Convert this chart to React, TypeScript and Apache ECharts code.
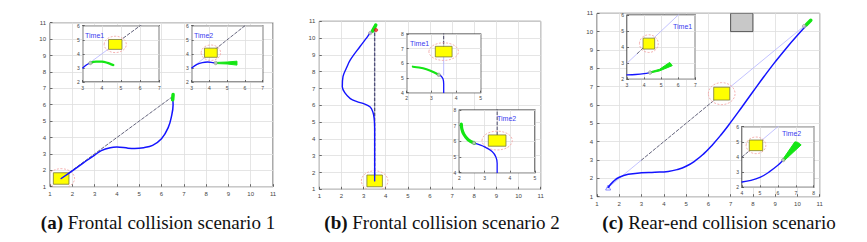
import React, { useEffect, useRef } from 'react';
import * as echarts from 'echarts';

type P = [number, number];

// ---------- axis ranges / tick labels ----------
const mainRange: P = [1, 11];
const a1XRange: P = [3, 7];
const a1YRange: P = [2, 6];
const a2XRange: P = [3, 7];
const a2YRange: P = [2, 6];
const b1XRange: P = [2, 5];
const b1YRange: P = [4, 8];
const b2XRange: P = [2, 5];
const b2YRange: P = [4, 8];
const c1XRange: P = [3, 7];
const c1YRange: P = [2, 6];
const c2XRange: P = [4, 8];
const c2YRange: P = [2, 6];

const captions = ['Frontal collision scenario 1', 'Frontal collision scenario 2', 'Rear-end collision scenario'];
const captionTags = ['(a)', '(b)', '(c)'];
const insetLabels = ['Time1', 'Time2', 'Time1', 'Time2', 'Time1', 'Time2'];

// ---------- panel (a) ----------
const aMainBlue: P[] = [[1.5, 1.5], [2, 1.97], [2.5, 2.45], [3, 2.93], [3.3, 3.2], [3.7, 3.38], [4.0, 3.42], [4.5, 3.35], [4.8, 3.33], [5.2, 3.38], [5.6, 3.52], [6.0, 3.92], [6.3, 4.6], [6.45, 5.3], [6.52, 6.0], [6.5, 6.4]];
const aMainDash: P[] = [[1.5, 1.5], [6.5, 6.5]];
const aMainGreen: P[] = [[6.5, 6.3], [6.52, 6.62]];
const aMainRect = [[1.5, 1.5, 0.7, 0.7]];
const aMainCircle = [[1.5, 1.5, 0.6]];

const a1Light: P[] = [[3, 3], [4.7, 4.7]];
const a1Dash: P[] = [[4.7, 4.7], [6.3, 6.3]];
const a1Blue: P[] = [[3, 3.0], [3.15, 3.17], [3.3, 3.3], [3.4, 3.35]];
const a1Green: P[] = [[3.4, 3.35], [3.7, 3.45], [4.0, 3.45], [4.3, 3.36], [4.6, 3.2]];
const a1Marker: P[] = [[3.4, 3.35]];
const a1Rect = [[4.7, 4.67, 0.7, 0.7]];
const a1Circle = [[4.7, 4.67, 0.58]];

const a2Light: P[] = [[3, 3], [4.1, 4.1]];
const a2Dash: P[] = [[4.1, 4.1], [6.3, 6.3]];
const a2Blue: P[] = [[3, 3.0], [3.3, 3.25], [3.6, 3.38], [3.9, 3.42], [4.2, 3.38], [4.35, 3.35]];
const a2Fan: P[] = [[4.35, 3.39], [5.0, 3.42], [5.55, 3.48], [5.55, 3.2], [5.0, 3.28], [4.35, 3.31]];
const a2Marker: P[] = [[4.35, 3.35]];
const a2Rect = [[4.08, 4.08, 0.72, 0.65]];
const a2Circle = [[4.08, 4.08, 0.55]];

// ---------- panel (b) ----------
const bMainBlue: P[] = [[3.5, 1.5], [3.5, 4.6], [3.48, 5.2], [3.42, 5.6], [3.3, 5.9], [3.0, 6.1], [2.7, 6.22], [2.4, 6.4], [2.15, 6.75], [2.04, 7.1], [2.07, 7.7], [2.22, 8.2], [2.4, 8.7], [2.84, 9.5], [3.1, 9.95], [3.3, 10.3], [3.4, 10.42]];
const bMainDash: P[] = [[3.5, 1.5], [3.5, 10.5]];
const bMainGreen: P[] = [[3.4, 10.42], [3.5, 10.65], [3.55, 10.78]];
const bMainRed: P[] = [[3.56, 10.48]];
const bMainMarker: P[] = [[3.3, 10.3]];
const bMainRect = [[3.5, 1.5, 0.7, 0.7]];
const bMainCircle = [[3.5, 1.5, 0.6]];

const b1Dash: P[] = [[3.5, 8.2], [3.5, 6.8]];
const b1Light: P[] = [[3.5, 6.8], [3.5, 5.2]];
const b1Blue: P[] = [[3.5, 4], [3.5, 4.6], [3.47, 4.95], [3.38, 5.15], [3.3, 5.22]];
const b1Green: P[] = [[3.3, 5.22], [3.1, 5.4], [2.8, 5.6], [2.5, 5.72], [2.25, 5.77]];
const b1Marker: P[] = [[3.3, 5.22]];
const b1Rect = [[3.5, 6.8, 0.68, 0.72]];
const b1Circle = [[3.5, 6.8, 0.6]];

const b2Dash: P[] = [[3.5, 8.2], [3.5, 6.05]];
const b2Blue: P[] = [[3.5, 4], [3.5, 4.6], [3.45, 5.0], [3.3, 5.35], [3.0, 5.65], [2.6, 5.88]];
const b2Green: P[] = [[2.6, 5.88], [2.35, 6.1], [2.18, 6.45], [2.1, 6.8], [2.08, 7.1]];
const b2Marker: P[] = [[2.58, 5.9]];
const b2Rect = [[3.5, 6.05, 0.7, 0.72]];
const b2Circle = [[3.5, 6.05, 0.6]];

// ---------- panel (c) ----------
const cMainBlue: P[] = [[1.5, 1.5], [1.75, 1.85], [2.0, 2.06], [2.4, 2.22], [3.0, 2.3], [3.6, 2.33], [4.2, 2.38], [4.6, 2.48], [5.0, 2.66], [5.4, 2.95], [5.8, 3.35], [6.2, 3.85], [6.6, 4.42], [7.0, 5.05], [7.5, 5.88], [8.0, 6.72], [8.5, 7.55], [9.0, 8.35], [9.5, 9.1], [10.0, 9.8], [10.45, 10.4]];
const cMainLight1: P[] = [[1.5, 1.5], [3.0, 3.0]];
const cMainDash: P[] = [[3.0, 3.0], [6.6, 6.6]];
const cMainLight2: P[] = [[6.6, 6.6], [10.45, 10.45]];
const cMainGreen: P[] = [[10.4, 10.38], [10.6, 10.62]];
const cMainMarker: P[] = [[10.3, 10.3]];
const cMainStart: P[] = [[1.5, 1.5]];
const cMainRect = [[6.6, 6.62, 0.72, 0.7]];
const cMainCircle = [[6.6, 6.62, 0.6]];
const cObstacle = [[7.5, 10.5, 1, 1]];

const c1Light1: P[] = [[3, 3], [3.6, 3.6]];
const c1Dash: P[] = [[3.6, 3.6], [4.3, 4.3]];
const c1Light2: P[] = [[4.3, 4.3], [6.3, 6.3]];
const c1Blue: P[] = [[3, 2.28], [3.5, 2.3], [4.0, 2.35], [4.35, 2.42]];
const c1Fan: P[] = [[4.35, 2.46], [4.9, 2.62], [5.5, 3.05], [5.65, 2.85], [4.9, 2.52], [4.35, 2.39]];
const c1Marker: P[] = [[4.35, 2.42]];
const c1Rect = [[4.28, 4.22, 0.68, 0.68]];
const c1Circle = [[4.28, 4.22, 0.55]];

const c2Dash: P[] = [[4, 4], [4.8, 4.8]];
const c2Light: P[] = [[4.8, 4.8], [6.3, 6.3]];
const c2Blue: P[] = [[4, 2.35], [4.5, 2.45], [5.0, 2.65], [5.5, 3.0], [6.0, 3.45], [6.3, 3.8]];
const c2Fan: P[] = [[6.25, 3.8], [6.95, 5.0], [7.1, 4.97], [7.3, 4.8], [6.35, 3.75]];
const c2Marker: P[] = [[6.3, 3.8]];
const c2Rect = [[4.78, 4.77, 0.75, 0.7]];
const c2Circle = [[4.78, 4.77, 0.55]];

// ---------- layout ----------
const gridBoxes = [
  [50, 22.7, 223, 164],
  [82.7, 25.7, 76.6, 56.3],
  [191.7, 25.7, 71, 56.3],
  [319.3, 21.3, 221.4, 168],
  [406.7, 34, 74, 58.7],
  [459.3, 110, 75.7, 62.7],
  [597, 13.3, 222.7, 183.4],
  [627, 15, 68.3, 64.3],
  [742, 126.7, 71.7, 60.6],
];
const isInset = [false, true, true, false, true, true, false, true, true];
const xRanges: P[] = [mainRange, a1XRange, a2XRange, mainRange, b1XRange, b2XRange, mainRange, c1XRange, c2XRange];
const yRanges: P[] = [mainRange, a1YRange, a2YRange, mainRange, b1YRange, b2YRange, mainRange, c1YRange, c2YRange];

const BLUE = '#1414ff';
const GREEN = '#14e614';
const LIGHT = '#b4b4ff';
const DASH = '#3c3c5a';

export default function App() {
  const ref = useRef<HTMLDivElement>(null);
  useEffect(() => {
    if (!ref.current) return;
    const chart = echarts.init(ref.current, undefined, { renderer: 'svg' });

    const zOf = (g: number) => (isInset[g] ? 6 : 2);

    const grid = gridBoxes.map((b, i) => ({
      left: b[0], top: b[1], width: b[2], height: b[3],
      show: true,
      backgroundColor: '#fff',
      borderColor: '#2a2a2a',
      borderWidth: isInset[i] ? 1.2 : 0.8,
      z: isInset[i] ? 4 : 0,
      containLabel: false,
    }));

    const axisCommon = (i: number, r: P) => ({
      gridIndex: i,
      type: 'value',
      min: r[0],
      max: r[1],
      interval: 1,
      z: isInset[i] ? 5 : 1,
      axisLine: { show: false },
      axisTick: { show: true, inside: true, length: isInset[i] ? 2 : 2.5, lineStyle: { color: '#333', width: 0.7 } },
      axisLabel: { fontSize: isInset[i] ? 5 : 6, color: '#444', margin: isInset[i] ? 3 : 4, fontFamily: 'Liberation Sans', showMinLabel: true, showMaxLabel: true },
      splitLine: { show: true, lineStyle: { color: '#dedede', width: 0.8 } },
    });
    const xAxis = xRanges.map((r, i) => axisCommon(i, r));
    const yAxis = yRanges.map((r, i) => axisCommon(i, r));

    const series: any[] = [];
    const line = (g: number, data: P[], color: string, width: number, type: any = 'solid', smooth: any = false, zAdd = 0) => {
      series.push({
        type: 'line', xAxisIndex: g, yAxisIndex: g, data, symbol: 'none', showSymbol: false, smooth,
        lineStyle: { color, width, type, cap: 'round' }, z: zOf(g) + zAdd, silent: true, clip: true,
      });
    };
    const marker = (g: number, data: P[], color = '#c8c8c8', border = '#808080', size = 4, symbol = 'circle') => {
      series.push({
        type: 'scatter', xAxisIndex: g, yAxisIndex: g, data, symbol, symbolSize: size,
        itemStyle: { color, borderColor: border, borderWidth: 0.6 }, z: zOf(g) + 3, silent: true,
      });
    };
    const rect = (g: number, data: number[][], fill = '#ffff00', stroke = '#7a7a3a') => {
      series.push({
        type: 'custom', xAxisIndex: g, yAxisIndex: g, data, z: zOf(g) + 1, silent: true, clip: true,
        renderItem: (_p: any, api: any) => {
          const c = api.coord([api.value(0), api.value(1)]);
          const s = api.size([api.value(2), api.value(3)]);
          return { type: 'rect', shape: { x: c[0] - s[0] / 2, y: c[1] - s[1] / 2, width: s[0], height: s[1] }, style: { fill, stroke, lineWidth: 0.8 } };
        },
      });
    };
    const ring = (g: number, data: number[][]) => {
      series.push({
        type: 'custom', xAxisIndex: g, yAxisIndex: g, data, z: zOf(g) + 1, silent: true, clip: true,
        renderItem: (_p: any, api: any) => {
          const c = api.coord([api.value(0), api.value(1)]);
          const s = api.size([api.value(2), api.value(2)]);
          return { type: 'ellipse', shape: { cx: c[0], cy: c[1], rx: s[0], ry: s[1] }, style: { fill: 'none', stroke: '#f2a0a0', lineWidth: 0.8, lineDash: [2, 1.5] } };
        },
      });
    };
    const fan = (g: number, pts: P[]) => {
      const flat = pts.reduce((acc: number[], p) => acc.concat(p), []);
      series.push({
        type: 'custom', xAxisIndex: g, yAxisIndex: g, data: [flat], z: zOf(g) + 2, silent: true, clip: true,
        encode: { x: pts.map((_, k) => 2 * k), y: pts.map((_, k) => 2 * k + 1) },
        renderItem: (_p: any, api: any) => {
          const points = pts.map((_, k) => api.coord([api.value(2 * k), api.value(2 * k + 1)]));
          return { type: 'polygon', shape: { points, smooth: 0 }, style: { fill: GREEN, stroke: GREEN, lineWidth: 1 } };
        },
      });
    };

    // panel a main (grid 0)
    ring(0, aMainCircle); rect(0, aMainRect);
    line(0, aMainDash, DASH, 0.8, [3, 2]);
    line(0, aMainBlue, BLUE, 1.5, 'solid', 0.4, 1);
    line(0, aMainGreen, GREEN, 3.5, 'solid', false, 2);
    // a1 (grid 1)
    line(1, a1Light, LIGHT, 0.8);
    line(1, a1Dash, DASH, 0.8, [3, 2]);
    ring(1, a1Circle); rect(1, a1Rect);
    line(1, a1Blue, BLUE, 1.3, 'solid', 0.3, 1);
    line(1, a1Green, GREEN, 2.2, 'solid', 0.4, 2);
    marker(1, a1Marker, '#d0d0d0', '#707070', 3.5);
    // a2 (grid 2)
    line(2, a2Light, LIGHT, 0.8);
    line(2, a2Dash, DASH, 0.8, [3, 2]);
    ring(2, a2Circle); rect(2, a2Rect);
    line(2, a2Blue, BLUE, 1.3, 'solid', 0.4, 1);
    fan(2, a2Fan);
    marker(2, a2Marker, '#d0d0d0', '#707070', 3.5);

    // panel b main (grid 3)
    ring(3, bMainCircle); rect(3, bMainRect);
    line(3, bMainDash, '#50507a', 1.4, [3, 2]);
    line(3, bMainBlue, BLUE, 1.4, 'solid', 0.35, 1);
    line(3, bMainGreen, GREEN, 3.5, 'solid', false, 2);
    marker(3, bMainRed, '#ee2222', '#cc0000', 3.5);
    marker(3, bMainMarker, '#c8c8c8', '#808080', 3.5);
    // b1 (grid 4)
    line(4, b1Dash, DASH, 1, [3, 2]);
    line(4, b1Light, LIGHT, 0.9);
    ring(4, b1Circle); rect(4, b1Rect);
    line(4, b1Blue, BLUE, 1.3, 'solid', 0.3, 1);
    line(4, b1Green, GREEN, 2.2, 'solid', 0.3, 2);
    marker(4, b1Marker, '#d0d0d0', '#707070', 3.5);
    // b2 (grid 5)
    line(5, b2Dash, DASH, 1, [3, 2]);
    ring(5, b2Circle); rect(5, b2Rect);
    line(5, b2Blue, BLUE, 1.3, 'solid', 0.3, 1);
    line(5, b2Green, GREEN, 3.2, 'solid', 0.3, 2);
    marker(5, b2Marker, '#d0d0d0', '#707070', 3.5);

    // panel c main (grid 6)
    rect(6, cObstacle, '#c8c8c8', '#333');
    line(6, cMainLight1, LIGHT, 0.8);
    line(6, cMainDash, DASH, 0.8, [3, 2]);
    line(6, cMainLight2, LIGHT, 0.8);
    ring(6, cMainCircle); rect(6, cMainRect);
    line(6, cMainBlue, BLUE, 1.5, 'solid', 0.5, 1);
    line(6, cMainGreen, GREEN, 3.5, 'solid', false, 2);
    marker(6, cMainMarker, '#c8c8c8', '#808080', 3.5);
    marker(6, cMainStart, 'rgba(255,255,255,0)', BLUE, 5, 'triangle');
    // c1 (grid 7)
    line(7, c1Light1, LIGHT, 0.8);
    line(7, c1Dash, DASH, 0.8, [3, 2]);
    line(7, c1Light2, LIGHT, 0.8);
    ring(7, c1Circle); rect(7, c1Rect);
    line(7, c1Blue, BLUE, 1.3, 'solid', 0.3, 1);
    fan(7, c1Fan);
    marker(7, c1Marker, '#d0d0d0', '#707070', 3.5);
    // c2 (grid 8)
    line(8, c2Dash, DASH, 0.8, [3, 2]);
    line(8, c2Light, LIGHT, 0.8);
    ring(8, c2Circle); rect(8, c2Rect);
    line(8, c2Blue, BLUE, 1.3, 'solid', 0.4, 1);
    fan(8, c2Fan);
    marker(8, c2Marker, '#d0d0d0', '#707070', 3.5);

    const labelPos: P[] = [[85, 35], [194, 35], [410, 43], [497, 118], [673, 26], [782, 133]];
    const graphic: any[] = insetLabels.map((t, i) => ({
      type: 'text', x: labelPos[i][0], y: labelPos[i][1], z: 100,
      style: { text: t, fill: '#3c3cf0', fontSize: 7, fontFamily: 'Liberation Sans', verticalAlign: 'middle', align: 'left' },
    }));
    const capX = [158, 442, 719];
    captions.forEach((c, i) => {
      graphic.push({
        type: 'text', x: capX[i], y: 222, z: 100,
        style: {
          text: `{b|${captionTags[i]}} ${c}`,
          fill: '#111', fontSize: 19, fontFamily: 'Liberation Serif', align: 'center', verticalAlign: 'middle',
          rich: { b: { fontWeight: 'bold', fontSize: 19, fontFamily: 'Liberation Serif', fill: '#111' } },
        },
      });
    });

    chart.setOption({
      animation: false,
      backgroundColor: '#fff',
      grid, xAxis, yAxis, series, graphic,
    });
    return () => chart.dispose();
  }, []);
  return <div ref={ref} style={{ position: 'absolute', left: 0, top: 0, width: 867, height: 242 }} />;
}
